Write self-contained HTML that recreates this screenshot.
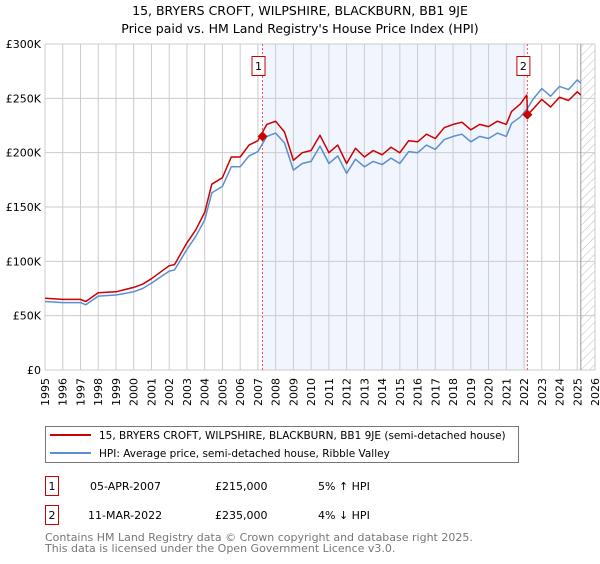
<!DOCTYPE html>
<html><head><meta charset="utf-8">
<style>
body{margin:0;background:#fff;font-family:"DejaVu Sans","Liberation Sans",sans-serif;}
svg text{font-family:"DejaVu Sans","Liberation Sans",sans-serif;}
</style></head>
<body>
<svg id="chart" width="600" height="560" xmlns="http://www.w3.org/2000/svg">
<defs>
<pattern id="hatch" width="6" height="6" patternUnits="userSpaceOnUse" patternTransform="rotate(45)">
<line x1="0" y1="0" x2="0" y2="6" stroke="#bbb" stroke-width="1"/>
</pattern>
</defs>
<text x="300" y="15" text-anchor="middle" font-size="12.5">15, BRYERS CROFT, WILPSHIRE, BLACKBURN, BB1 9JE</text>
<text x="300" y="33" text-anchor="middle" font-size="12.5">Price paid vs. HM Land Registry's House Price Index (HPI)</text>
<g id="plot"></g>
<g>
<rect x="45.5" y="426.5" width="473" height="36" fill="#fff" stroke="#777"/>
<line x1="50" y1="435" x2="91" y2="435" stroke="#cc0000" stroke-width="2"/>
<text x="99" y="439" font-size="10.5">15, BRYERS CROFT, WILPSHIRE, BLACKBURN, BB1 9JE (semi-detached house)</text>
<line x1="50" y1="453" x2="91" y2="453" stroke="#5b8fd0" stroke-width="2"/>
<text x="99" y="457" font-size="10.5">HPI: Average price, semi-detached house, Ribble Valley</text>
</g>
<g font-size="11">
<rect x="45.5" y="476.5" width="13" height="19" fill="none" stroke="#cc0000"/>
<text x="52" y="490" text-anchor="middle">1</text>
<text x="90" y="490">05-APR-2007</text>
<text x="215" y="490">£215,000</text>
<text x="318" y="490">5% ↑ HPI</text>
<rect x="45.5" y="505.5" width="13" height="19" fill="none" stroke="#cc0000"/>
<text x="52" y="519" text-anchor="middle">2</text>
<text x="88" y="519">11-MAR-2022</text>
<text x="215" y="519">£235,000</text>
<text x="318" y="519">4% ↓ HPI</text>
</g>
<text x="45" y="541" font-size="11" fill="#777">Contains HM Land Registry data © Crown copyright and database right 2025.</text>
<text x="45" y="552" font-size="11" fill="#777">This data is licensed under the Open Government Licence v3.0.</text>
</svg>
<script>
const hpiYears=[1995,1996,1997,1997.3,1998,1999,2000,2000.5,2001,2002,2002.3,2003,2003.5,2004,2004.4,2005,2005.5,2006,2006.5,2007,2007.5,2008,2008.5,2009,2009.5,2010,2010.5,2011,2011.5,2012,2012.5,2013,2013.5,2014,2014.5,2015,2015.5,2016,2016.5,2017,2017.5,2018,2018.5,2019,2019.5,2020,2020.5,2021,2021.3,2021.8,2022.2,2022.5,2023,2023.5,2024,2024.5,2025,2025.2];
const hpiValues=[63000,62000,62000,60000,68000,69000,72000,75000,80000,91000,92000,111000,123000,138000,163000,169000,187000,187000,197000,201000,215000,218000,209000,184000,190000,192000,206000,190000,197000,181000,194000,187000,192000,189000,195000,190000,201000,200000,207000,203000,212000,215000,217000,210000,215000,213000,218000,215000,227000,233000,241000,249000,259000,252000,261000,258000,267000,264000];
const priceYears=[1995,1996,1997,1997.3,1998,1999,2000,2000.5,2001,2002,2002.3,2003,2003.5,2004,2004.4,2005,2005.5,2006,2006.5,2007,2007.5,2008,2008.5,2009,2009.5,2010,2010.5,2011,2011.5,2012,2012.5,2013,2013.5,2014,2014.5,2015,2015.5,2016,2016.5,2017,2017.5,2018,2018.5,2019,2019.5,2020,2020.5,2021,2021.3,2021.8,2022.15,2022.2,2022.5,2023,2023.5,2024,2024.5,2025,2025.2];
const priceValues=[66000,65000,65000,63000,71000,72000,76000,79000,84000,96000,97000,117000,129000,145000,171000,177000,196000,196000,207000,211000,226000,229000,219000,193000,200000,202000,216000,200000,207000,190000,204000,196000,202000,198000,205000,200000,211000,210000,217000,213000,223000,226000,228000,221000,226000,224000,229000,226000,238000,245000,253000,235000,240000,249000,242000,251000,248000,256000,253000];
const sales=[[2007.26,215000,"1"],[2022.19,235000,"2"]];
const yTicks=[0,50000,100000,150000,200000,250000,300000];
const yTickLabels=["£0","£50K","£100K","£150K","£200K","£250K","£300K"];
const xTicks=[];for(let y=1995;y<=2026;y++)xTicks.push(y);

const NS="http://www.w3.org/2000/svg";
const L=45,R=595,T=44,B=370;
const xs=v=>L+(v-1995)/(2026-1995)*(R-L);
const ys=v=>B-v/300000*(B-T);
const g=document.getElementById('plot');
function mk(tag,attrs,parent){const e=document.createElementNS(NS,tag);for(const k in attrs)e.setAttribute(k,attrs[k]);(parent||g).appendChild(e);return e;}

const shade=mk('rect',{x:xs(sales[0][0]),y:T,width:xs(sales[1][0])-xs(sales[0][0]),height:B-T,fill:'#eef3fc',opacity:0.8});


const hatch=mk('rect',{x:xs(2025.2),y:T,width:R-xs(2025.2),height:B-T,fill:'url(#hatch)'});



xTicks.forEach(y=>{
  const ln=mk('line',{x1:xs(y),x2:xs(y),y1:T,y2:B,stroke:'#ccc','stroke-width':1});
  
  
  const t=mk('text',{x:0,y:0,'font-size':11,'text-anchor':'end',transform:`translate(${xs(y)+4},${B+8}) rotate(-90)`});
  t.textContent=y;
  
  
});
yTicks.forEach((v,i)=>{
  const ln=mk('line',{x1:L,x2:R,y1:ys(v),y2:ys(v),stroke:'#ccc','stroke-width':1});
  
  
  const t=mk('text',{x:L-4,y:ys(v)+4,'font-size':11,'text-anchor':'end'});
  t.textContent=yTickLabels[i];
  
  
});
const endLine=mk('line',{x1:xs(2025.2),x2:xs(2025.2),y1:T,y2:B,stroke:'#999','stroke-width':1});



sales.forEach(s=>{
  const ln=mk('line',{x1:xs(s[0]),x2:xs(s[0]),y1:T,y2:B,stroke:'#e55','stroke-width':1,'stroke-dasharray':'2,2'});
  
  
  const bx=mk('rect',{x:xs(s[0])-10.5,y:56.5,width:13,height:19,fill:'#fff',stroke:'#cc0000'});
  
  
  const t=mk('text',{x:xs(s[0])-4,y:70,'font-size':11,'text-anchor':'middle'});
  t.textContent=s[2];
  
  
});

function path(xsArr,vs,color,name){
  const d=xsArr.map((x,i)=>(i?'L':'M')+xs(x).toFixed(1)+','+ys(vs[i]).toFixed(1)).join('');
  const p=mk('path',{d:d,fill:'none',stroke:color,'stroke-width':1.5,'stroke-linejoin':'round'});
  
  
}
path(hpiYears,hpiValues,'#5b8fd0','hpi-line');
path(priceYears,priceValues,'#cc0000','price-line');
sales.forEach(s=>{
  const cx=xs(s[0]),cy=ys(s[1]);
  const m=mk('path',{d:`M${cx},${cy-5}L${cx+5},${cy}L${cx},${cy+5}L${cx-5},${cy}Z`,fill:'#cc0000'});
  
  
});
</script>
</body></html>
